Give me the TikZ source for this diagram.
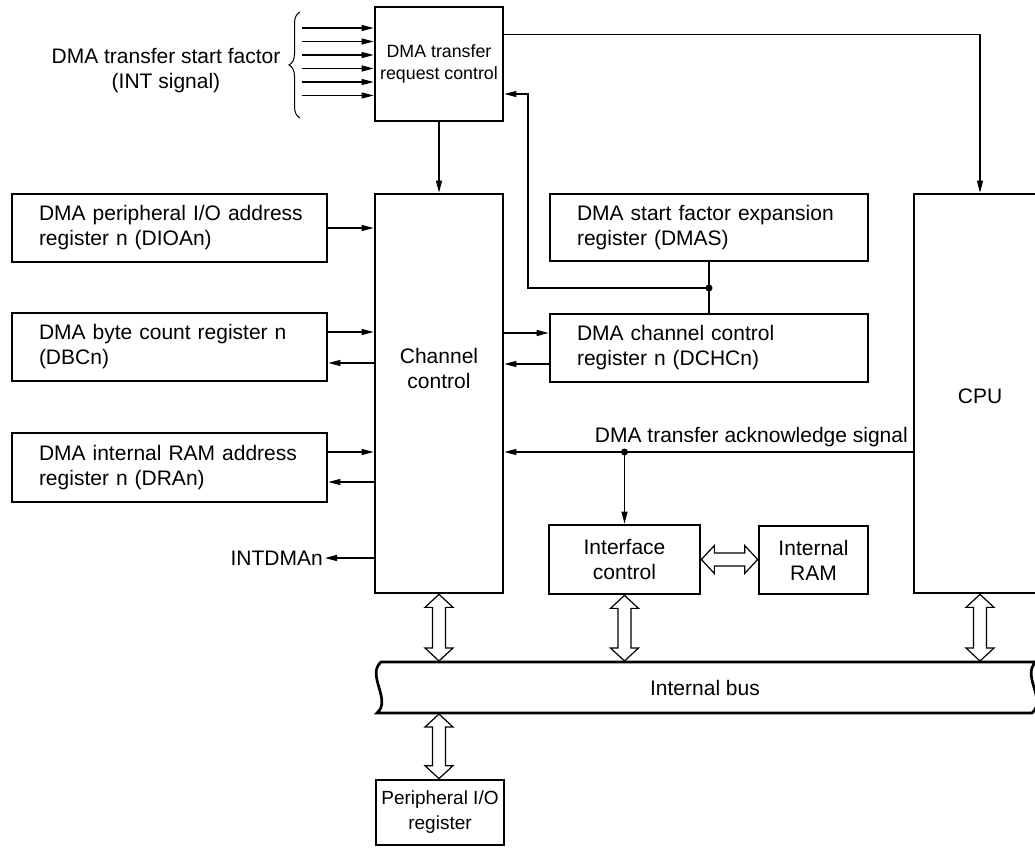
\documentclass[tikz,border=0pt]{standalone}
\usepackage{fontspec}
\setmainfont{Liberation Sans}
\usetikzlibrary{arrows.meta,calc,decorations.pathreplacing}
\newcommand{\vbus}[2]{\draw[hollow] let \p1=(#1), \p2=(#2) in (\x1,\y1) -- (\x1+14pt,\y1-13pt) -- (\x1+6.5pt,\y1-13pt) -- (\x1+6.5pt,\y2+13pt) -- (\x1+14pt,\y2+13pt) -- (\x1,\y2) -- (\x1-14pt,\y2+13pt) -- (\x1-6.5pt,\y2+13pt) -- (\x1-6.5pt,\y1-13pt) -- (\x1-14pt,\y1-13pt) -- cycle;}
\newcommand{\hbus}[2]{\draw[hollow] let \p1=(#1), \p2=(#2) in (\x1,\y1) -- (\x1+13pt,\y1+14pt) -- (\x1+13pt,\y1+6.5pt) -- (\x2-13pt,\y1+6.5pt) -- (\x2-13pt,\y1+14pt) -- (\x2,\y1) -- (\x2-13pt,\y1-14pt) -- (\x2-13pt,\y1-6.5pt) -- (\x1+13pt,\y1-6.5pt) -- (\x1+13pt,\y1-14pt) -- cycle;}
\begin{document}
\begin{tikzpicture}[x=1pt,y=-1pt, font=\fontsize{21}{25}\selectfont,
 box/.style={draw, line width=2.7pt, inner sep=0pt, align=center},
 lbox/.style={draw, line width=2.7pt, inner xsep=27pt, inner ysep=0pt, align=left, minimum height=68pt},
 arr/.style={line width=1.2pt, -{Triangle[length=12pt,width=6pt]}},
 wire/.style={line width=1.2pt},
 hollow/.style={draw, line width=1.2pt, fill=white}]
\useasboundingbox (0,0) rectangle (1035,848);

% internal bus
\draw[line width=2.7pt, fill=white] (381,662) -- (1036,662) .. controls (1021,675) and (1047,700) .. (1032,713) -- (377,713) .. controls (392,700) and (366,675) .. (381,662) -- cycle;
\node (busT) at (705,688) {Internal bus};
\coordinate (busTop) at (0,661);
\coordinate (busBot) at (0,714);

% boxes
\node[box, minimum width=128pt, minimum height=114pt, font=\fontsize{17.8}{22}\selectfont] (req) at (439,64) {DMA transfer\\request control};
\node[box, minimum width=128pt, minimum height=399pt] (chan) at (439,393.5) {};
\node[align=center] (chanT) at (439,368) {Channel\\control};
\node[box, minimum width=132pt, minimum height=399pt] (cpu) at (980,393.5) {};
\node (cpuT) at (980,396) {CPU};
\node[lbox, text width=261pt] (dioa) at (169.5,228) {\mbox{DMA peripheral I/O address}\\\mbox{register n (DIOAn)}};
\node[lbox, text width=261pt] (dbc) at (169.5,347) {\mbox{DMA byte count register n}\\(DBCn)};
\node[lbox, text width=261pt, minimum height=69pt] (dra) at (169.5,467.5) {\mbox{DMA internal RAM address}\\\mbox{register n (DRAn)}};
\node[lbox, text width=264pt, minimum height=67pt] (dmas) at (709,227.5) {\mbox{DMA start factor expansion}\\\mbox{register (DMAS)}};
\node[lbox, text width=264pt] (dchc) at (709,348) {\mbox{DMA channel control}\\\mbox{register n (DCHCn)}};
\node[box, minimum width=151pt, minimum height=69pt] (iface) at (624.5,559.5) {Interface\\control};
\node[box, minimum width=109pt, minimum height=68pt] (ram) at (813.5,560) {Internal\\RAM};
\node[box, minimum width=128pt, minimum height=65pt, font=\fontsize{19}{25}\selectfont] (per) at (440,812.5) {Peripheral I/O\\register};

% start factor inputs
\node[align=center] (startlbl) at (166,71) {DMA transfer start factor\\(INT signal)};
\draw[line width=1pt, decorate, decoration={brace, amplitude=11pt}] (300,118) -- (300,12);
\foreach \i/\yy in {1/28,2/41.5,3/55,4/68.5,5/82,6/95.5} {
  \coordinate (in\i) at (302,\yy);
  \draw[arr] (in\i) -- (in\i -| req.west);
}

% request control connections
\draw[arr] (req.south) -- (chan.north);
\coordinate (rq) at ($(req.north east)!0.25!(req.south east)$);
\draw[arr] (rq) -| (cpu.north);

% DMAS / DCHC loop
\coordinate (J) at (709,288);
\coordinate (L) at (528,94);
\draw[wire] (dmas.south) -- (dchc.north);
\draw[arr] (J) -| (L) -- (L -| req.east);
\fill (J) circle (3.5pt);

% left registers
\draw[arr] (dioa.east) -- (dioa.east -| chan.west);
\coordinate (dbcA) at ($(dbc.east)+(0,-15)$);
\coordinate (dbcB) at ($(dbc.east)+(0,16)$);
\draw[arr] (dbcA) -- (dbcA -| chan.west);
\draw[arr] (dbcB -| chan.west) -- (dbcB);
\coordinate (draA) at ($(dra.east)+(0,-15.5)$);
\coordinate (draB) at ($(dra.east)+(0,14.5)$);
\draw[arr] (draA) -- (draA -| chan.west);
\draw[arr] (draB -| chan.west) -- (draB);

% DCHC
\coordinate (dchA) at ($(dchc.west)+(0,-15)$);
\coordinate (dchB) at ($(dchc.west)+(0,16)$);
\draw[arr] (dchA -| chan.east) -- (dchA);
\draw[arr] (dchB) -- (dchB -| chan.east);

% INTDMAn
\node[anchor=east, inner xsep=2pt] (intd) at (325,558) {INTDMAn};
\draw[arr] (chan.west |- intd.east) -- (intd.east);

% acknowledge
\coordinate (K) at (624.5,452);
\draw[arr] (cpu.west |- K) -- (chan.east |- K);
\draw[arr] (K) -- (iface.north);
\fill (K) circle (3.5pt);
\node[anchor=base east, inner sep=0pt] (ackT) at (908,442) {DMA transfer acknowledge signal};

% hollow double arrows
\vbus{chan.south}{chan.south |- busTop}
\vbus{iface.south}{iface.south |- busTop}
\vbus{cpu.south}{cpu.south |- busTop}
\vbus{chan.south |- busBot}{per.north}
\hbus{iface.east}{ram.west}
\end{tikzpicture}
\end{document}
